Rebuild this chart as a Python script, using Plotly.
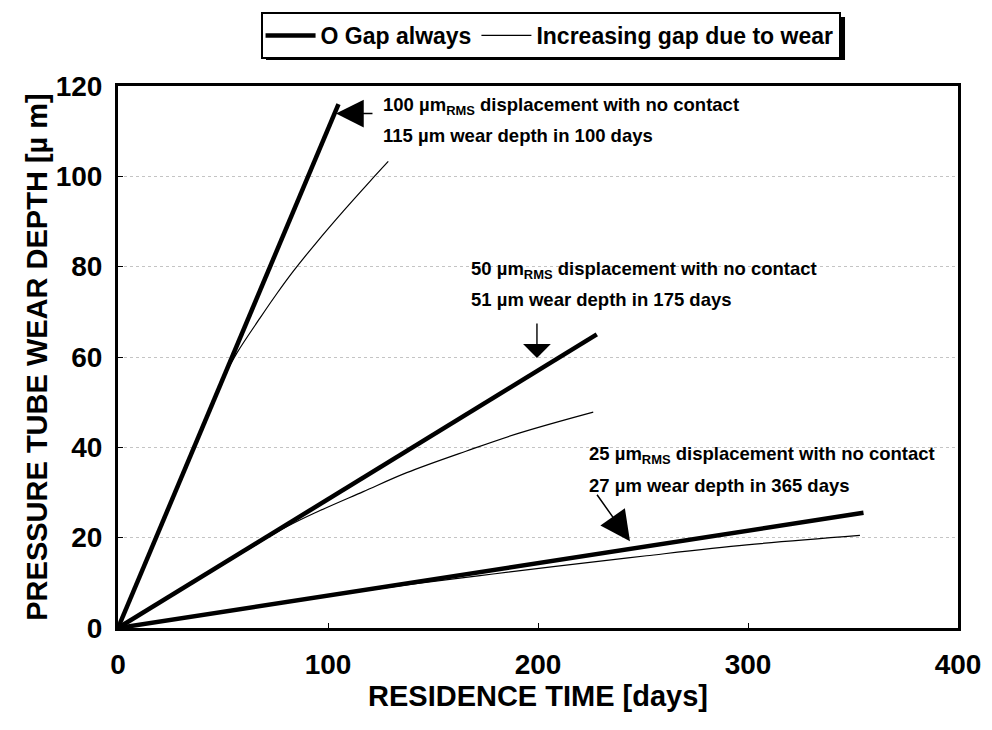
import plotly.graph_objects as go

# ---- data ----
x_100_zero = [0, 105]
y_100_zero = [0, 116]
x_100_gap = [0, 30, 50, 56.5, 67.6, 75.6, 83.5, 94.6, 107.3, 120, 128.7]
y_100_gap = [0, 33.2, 55.2, 60.8, 68.6, 74.0, 79.0, 85.4, 92.3, 98.9, 103.3]

x_50_zero = [0, 228]
y_50_zero = [0, 65]
x_50_gap = [0, 48.6, 80.3, 96.2, 116.8, 137.5, 166, 191.4, 226.3]
y_50_gap = [0, 13.6, 22.4, 26.0, 30.2, 34.4, 39.2, 43.2, 47.8]

x_25_zero = [0, 355]
y_25_zero = [0, 25.5]
x_25_gap = [0, 60, 100, 140, 172.4, 207.3, 251.7, 299.4, 353.3]
y_25_gap = [0, 4.3, 7.1, 9.7, 11.6, 13.6, 16.0, 18.4, 20.5]

x_ticks = [0, 100, 200, 300, 400]
y_ticks = [0, 20, 40, 60, 80, 100, 120]

notes = [
    ("100 µm<sub>RMS</sub> displacement with no contact", "115 µm wear depth in 100 days"),
    ("50 µm<sub>RMS</sub> displacement with no contact", "51 µm wear depth in 175 days"),
    ("25 µm<sub>RMS</sub> displacement with no contact", "27 µm wear depth in 365 days"),
]
note_pos = [(125.2, 115.6), (167, 79.3), (223.5, 38.3)]   # data coords of first line (left edge)
arrow_tips = [(103.8, 113.9), (199.5, 59.8), (243.8, 19.2)]

FONT = "Liberation Sans"

fig = go.Figure()

zero_sets = [(x_100_zero, y_100_zero), (x_50_zero, y_50_zero), (x_25_zero, y_25_zero)]
gap_sets = [(x_100_gap, y_100_gap), (x_50_gap, y_50_gap), (x_25_gap, y_25_gap)]

for i, (xs, ys) in enumerate(zero_sets):
    fig.add_trace(go.Scatter(x=xs, y=ys, mode="lines", name="O Gap always",
                             legendgroup="zero", showlegend=(i == 0),
                             line=dict(color="black", width=4.5)))
for i, (xs, ys) in enumerate(gap_sets):
    fig.add_trace(go.Scatter(x=xs, y=ys, mode="lines", name="Increasing gap due to wear",
                             legendgroup="gap", showlegend=(i == 0),
                             line=dict(color="black", width=1.2, shape="spline", smoothing=1.0)))

# text notes
for (l1, l2), (nx, ny) in zip(notes, note_pos):
    fig.add_annotation(x=nx, y=ny, xref="x", yref="y", text=l1, showarrow=False,
                       xanchor="left", yanchor="middle",
                       font=dict(family=FONT, size=18.5, color="black", weight="bold"))
    fig.add_annotation(x=nx, y=ny, xref="x", yref="y", text=l2, showarrow=False,
                       xanchor="left", yanchor="middle", yshift=-30,
                       font=dict(family=FONT, size=18.5, color="black", weight="bold"))

# arrows
arrow_specs = [
    dict(ax=38, ay=0, arrowhead=2, arrowsize=3.7, arrowwidth=1.5),
    dict(ax=0, ay=-36, arrowhead=1, arrowsize=3.3, arrowwidth=1.4),
    dict(ax=-34, ay=-48, arrowhead=2, arrowsize=4.0, arrowwidth=1.5),
]
for (tx, ty), spec in zip(arrow_tips, arrow_specs):
    fig.add_annotation(x=tx, y=ty, xref="x", yref="y", text="", showarrow=True,
                       axref="pixel", ayref="pixel", arrowcolor="black", standoff=0,
                       **spec)

# legend shadow (paper coords, offset a few pixels right/down of the legend box)
fig.add_shape(type="rect", xref="paper", yref="paper",
              x0=0.1762, x1=0.8655, y0=1.048, y1=1.1273,
              fillcolor="black", line=dict(width=0), layer="above")

fig.update_layout(
    width=992, height=730,
    margin=dict(l=118, r=34, t=86, b=102, autoexpand=False),
    paper_bgcolor="white", plot_bgcolor="white",
    font=dict(family=FONT, color="black"),
    legend=dict(orientation="h", xref="container", yref="container",
                x=0.555, xanchor="center", y=0.9836, yanchor="top",
                bgcolor="white", bordercolor="black", borderwidth=2,
                font=dict(family=FONT, size=23, color="black", weight="bold"),
                itemwidth=50),
    showlegend=True,
)

fig.update_xaxes(range=[0, 400], tickvals=x_ticks, ticktext=[str(v) for v in x_ticks],
                 showline=True, linecolor="black", linewidth=3, mirror=True,
                 ticks="inside", ticklen=5, tickcolor="black",
                 showgrid=False, zeroline=False,
                 tickfont=dict(family=FONT, size=28, color="black", weight="bold"),
                 ticklabelstandoff=9,
                 title=dict(text="RESIDENCE TIME [days]", standoff=0,
                            font=dict(family=FONT, size=29, color="black", weight="bold")))
fig.update_yaxes(range=[0, 120], tickvals=y_ticks, ticktext=[str(v) for v in y_ticks],
                 showline=True, linecolor="black", linewidth=3, mirror=True,
                 ticks="inside", ticklen=5, tickcolor="black",
                 showgrid=True, gridcolor="#c4c4c4", griddash="dot", gridwidth=1,
                 zeroline=False,
                 tickfont=dict(family=FONT, size=28, color="black", weight="bold"),
                 ticklabelstandoff=7,
                 title=dict(text="PRESSURE TUBE WEAR DEPTH [µ m]", standoff=0,
                            font=dict(family=FONT, size=29, color="black", weight="bold")))

fig.write_html("out.html")
